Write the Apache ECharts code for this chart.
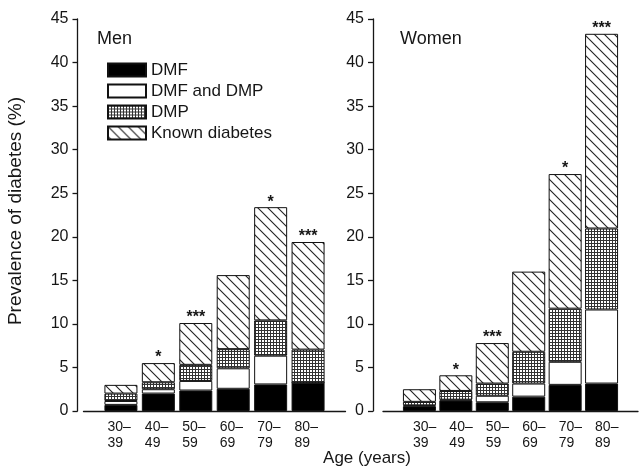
<!DOCTYPE html>
<html>
<head>
<meta charset="utf-8">
<script src="https://cdn.jsdelivr.net/npm/echarts@6/dist/echarts.min.js"></script>
<style>
html, body { margin: 0; padding: 0; background: #fff; }
#chart { width: 641px; height: 467px; }
</style>
</head>
<body>
<div id="chart"></div>
<script>
// age groups and stacked prevalence (%) per group
var ages = ['30–\n39', '40–\n49', '50–\n59', '60–\n69', '70–\n79', '80–\n89'];

var menDMF = [0.7, 2.0, 2.35, 2.55, 3.05, 3.25];
var menBoth = [0.45, 0.5, 1.1, 2.35, 3.3, 0];
var menDMP = [0.85, 0.8, 1.85, 2.2, 4.05, 3.8];
var menKnown = [1.0, 2.2, 4.8, 8.5, 13.0, 12.35];
var menSig = ['', '*', '***', '', '*', '***'];

var womenDMF = [0.55, 1.2, 1.0, 1.65, 3.0, 3.15];
var womenBoth = [0.1, 0.1, 0.75, 1.5, 2.65, 8.5];
var womenDMP = [0.4, 1.0, 1.4, 3.65, 6.1, 9.3];
var womenKnown = [1.45, 1.8, 4.65, 9.2, 15.45, 22.35];
var womenSig = ['', '*', '***', '', '*', '***'];

var yMin = 0, yMax = 45, yStep = 5;
var names = ['DMF', 'DMF and DMP', 'DMP', 'Known diabetes'];

var FONT = '"Liberation Sans", Arial, sans-serif';
var INK = '#161616';

// one empty slot on each side so the baseline runs past the bars
function pad(arr, fill) {
	return [fill].concat(arr, [fill]);
}

// diagonal hatch tile (\\\)
function hatchTile() {
	var c = document.createElement('canvas');
	c.width = 10; c.height = 10;
	var g = c.getContext('2d');
	g.fillStyle = '#fff';
	g.fillRect(0, 0, 10, 10);
	g.strokeStyle = '#222';
	g.lineWidth = 1.1;
	g.beginPath();
	g.moveTo(-1, -1); g.lineTo(11, 11);
	g.moveTo(-1, 9); g.lineTo(1, 11);
	g.moveTo(9, -1); g.lineTo(11, 1);
	g.stroke();
	return c;
}

// fine square grid tile
function gridTile() {
	var c = document.createElement('canvas');
	c.width = 3; c.height = 3;
	var g = c.getContext('2d');
	g.fillStyle = '#fff';
	g.fillRect(0, 0, 3, 3);
	g.fillStyle = '#333';
	g.fillRect(0, 0, 3, 1);
	g.fillRect(0, 0, 1, 3);
	return c;
}

var fills = [
	'#000',
	'#fff',
	{ image: gridTile(), repeat: 'repeat' },
	{ image: hatchTile(), repeat: 'repeat' }
];

function xLabel(v) {
	if (!v) return '';
	var p = v.split('\n');
	return '{a|' + p[0] + '}\n{a|' + p[1] + '}';
}

function xAxisFor(idx, padLeft) {
	return {
		type: 'category',
		gridIndex: idx,
		data: pad(ages, ''),
		boundaryGap: false,
		axisTick: { show: false },
		axisLine: { lineStyle: { color: INK, width: 1.3 } },
		axisLabel: {
			interval: 0,
			margin: 8,
			formatter: xLabel,
			rich: {
				a: { width: 27, align: 'left', padding: [0, 0, 0, padLeft], fontSize: 14, lineHeight: 16, color: INK, fontFamily: FONT }
			}
		}
	};
}

function yAxisFor(idx, off) {
	return {
		type: 'value',
		gridIndex: idx,
		min: yMin,
		max: yMax,
		interval: yStep,
		offset: off,
		splitLine: { show: false },
		axisLine: { show: true, lineStyle: { color: INK, width: 1.3 } },
		axisTick: { show: true, length: 5, lineStyle: { color: INK, width: 1.3 } },
		axisLabel: { fontSize: 16, color: INK, fontFamily: FONT, margin: 9 }
	};
}

function stackSeries(idx, stack, parts, sig) {
	return parts.map(function(vals, k) {
		var s = {
			name: names[k],
			type: 'bar',
			stack: stack,
			xAxisIndex: idx,
			yAxisIndex: idx,
			barWidth: 33,
			data: pad(vals, null),
			itemStyle: { color: fills[k], borderColor: '#111', borderWidth: 1 },
			emphasis: { disabled: true },
			animation: false
		};
		if (k === parts.length - 1) {
			var marks = pad(sig, '');
			s.label = {
				show: true,
				position: 'top',
				distance: -3,
				fontSize: 16,
				fontWeight: 'bold',
				color: INK,
				fontFamily: FONT,
				formatter: function(p) { return marks[p.dataIndex] || ''; }
			};
		}
		return s;
	});
}

var myChart = echarts.init(document.getElementById('chart'), null, { renderer: 'canvas' });

var option = {
	backgroundColor: '#fff',
	animation: false,
	title: [
		{ text: 'Men', left: 97, top: 30, padding: 0, textStyle: { fontSize: 18, fontWeight: 'normal', color: INK, fontFamily: FONT } },
		{ text: 'Women', left: 400, top: 30, padding: 0, textStyle: { fontSize: 18, fontWeight: 'normal', color: INK, fontFamily: FONT } }
	],
	legend: {
		data: names,
		orient: 'vertical',
		left: 107,
		top: 61,
		padding: 0,
		icon: 'rect',
		itemWidth: 38,
		itemHeight: 13,
		itemGap: 3,
		selectedMode: false,
		textStyle: { fontSize: 17, lineHeight: 18, color: INK, fontFamily: FONT }
	},
	grid: [
		{ left: 83.5, width: 262, top: 19, height: 392 },
		{ left: 383, width: 263, top: 19, height: 392 }
	],
	xAxis: [xAxisFor(0, 0), xAxisFor(1, 14)],
	yAxis: [yAxisFor(0, 6), yAxisFor(1, 10)],
	series: stackSeries(0, 'men', [menDMF, menBoth, menDMP, menKnown], menSig)
		.concat(stackSeries(1, 'women', [womenDMF, womenBoth, womenDMP, womenKnown], womenSig)),
	graphic: [
		{
			type: 'text',
			x: 16,
			y: 211,
			rotation: Math.PI / 2,
			style: { text: 'Prevalence of diabetes (%)', align: 'center', verticalAlign: 'middle', fontSize: 19, fontFamily: FONT, fill: INK }
		},
		{
			type: 'text',
			x: 367,
			y: 458,
			style: { text: 'Age (years)', align: 'center', verticalAlign: 'middle', fontSize: 17, fontFamily: FONT, fill: INK }
		}
	]
};

myChart.setOption(option);
</script>
</body>
</html>
